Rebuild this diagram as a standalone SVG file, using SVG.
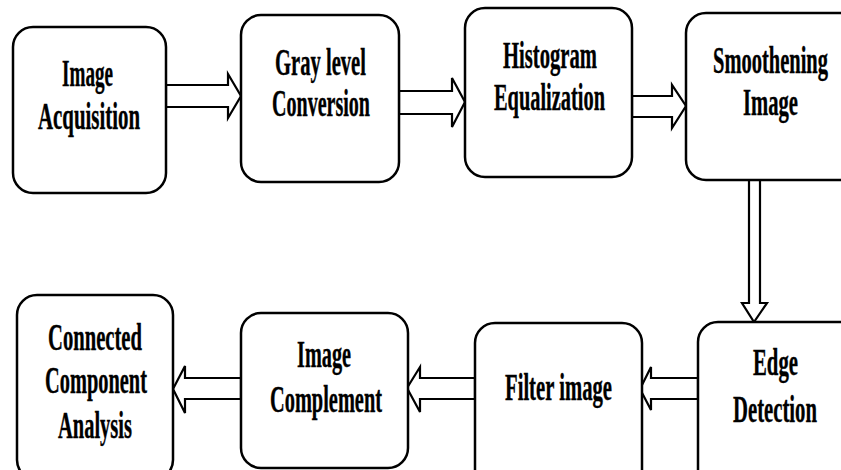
<svg xmlns="http://www.w3.org/2000/svg" width="841" height="470" viewBox="0 0 841 470">
<style>
.box{fill:#fff;stroke:#000;stroke-width:2.5}
.arr{fill:#fff;stroke:#000;stroke-width:2.2;stroke-linejoin:miter}
text{font-family:"Liberation Serif","Times New Roman",serif;font-weight:bold;font-size:37px;fill:#000;stroke:#000;stroke-width:0.4}
</style>
<rect width="841" height="470" fill="#fff"/>
<g id="connectors">
<polygon class="arr" points="166,85 228,85 228,74 241,96 228,118 228,107 166,107"/>
<polygon class="arr" points="399,91 452,91 452,78 465,102 452,127 452,114 399,114"/>
<polygon class="arr" points="632,96 672,96 672,85 686,106 672,128 672,117 632,117"/>
<polygon class="arr" points="749,180 749,303 742,303 754,322 767,303 760,303 760,180"/>
<polygon class="arr" points="698,378 651,378 651,367 640,389 651,410 651,399 698,399"/>
<polygon class="arr" points="475,378 420,378 420,367 407,388 420,412 420,399 475,399"/>
<polygon class="arr" points="241,378 185,378 185,366 173,389 185,413 185,399 241,399"/>
</g>
<g id="n1"><rect class="box" x="13" y="27" width="153" height="166" rx="20"/>
<text x="62" y="86" textLength="51" lengthAdjust="spacingAndGlyphs">Image</text>
<text x="38" y="129" textLength="102" lengthAdjust="spacingAndGlyphs">Acquisition</text></g>
<g id="n2"><rect class="box" x="241" y="15" width="158" height="167" rx="20"/>
<text x="275" y="75" textLength="91" lengthAdjust="spacingAndGlyphs">Gray level</text>
<text x="272" y="116" textLength="98" lengthAdjust="spacingAndGlyphs">Conversion</text></g>
<g id="n3"><rect class="box" x="465" y="8" width="167" height="169" rx="20"/>
<text x="503" y="68" textLength="94" lengthAdjust="spacingAndGlyphs">Histogram</text>
<text x="494" y="110" textLength="111" lengthAdjust="spacingAndGlyphs">Equalization</text></g>
<g id="n4"><rect class="box" x="686" y="13" width="180" height="167" rx="20"/>
<text x="713" y="73" textLength="115" lengthAdjust="spacingAndGlyphs">Smoothening</text>
<text x="743" y="115" textLength="55" lengthAdjust="spacingAndGlyphs">Image</text></g>
<g id="n5"><rect class="box" x="698" y="322" width="180" height="170" rx="20"/>
<text x="753" y="375" textLength="45" lengthAdjust="spacingAndGlyphs">Edge</text>
<text x="733" y="422" textLength="84" lengthAdjust="spacingAndGlyphs">Detection</text></g>
<g id="n6"><rect class="box" x="475" y="323" width="167" height="170" rx="20"/>
<text x="505" y="400" textLength="107" lengthAdjust="spacingAndGlyphs">Filter image</text></g>
<g id="n7"><rect class="box" x="241" y="313" width="167" height="155" rx="20"/>
<text x="297" y="367" textLength="54" lengthAdjust="spacingAndGlyphs">Image</text>
<text x="270" y="412" textLength="112" lengthAdjust="spacingAndGlyphs">Complement</text></g>
<g id="n8"><rect class="box" x="17" y="295" width="156" height="185" rx="20"/>
<text x="48" y="350" textLength="94" lengthAdjust="spacingAndGlyphs">Connected</text>
<text x="45" y="393" textLength="102" lengthAdjust="spacingAndGlyphs">Component</text>
<text x="58" y="438" textLength="74" lengthAdjust="spacingAndGlyphs">Analysis</text></g>
</svg>
